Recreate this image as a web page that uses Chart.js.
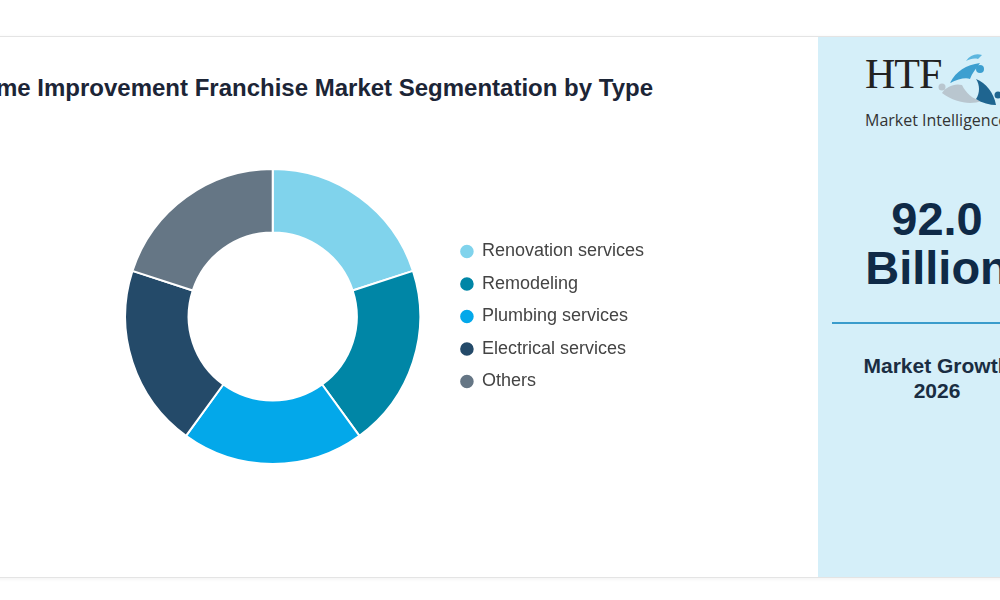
<!DOCTYPE html>
<html>
<head>
<meta charset="utf-8">
<script src="https://cdn.jsdelivr.net/npm/chart.js@4/dist/chart.umd.min.js"></script>
<style>
  html, body { margin: 0; padding: 0; width: 1000px; height: 600px; overflow: hidden; background: #ffffff; font-family: "Liberation Sans", Arial, sans-serif; }
  #card { position: absolute; left: -20px; top: 36px; width: 1100px; height: 540px; border-top: 1px solid #e4e4e4; border-bottom: 1px solid #e4e4e4; box-shadow: 0 1px 4px rgba(0,0,0,0.06); background: #fff; }
  #title { position: absolute; right: 347px; top: 74px; white-space: nowrap; font-weight: bold; font-size: 24px; color: #1c2536; text-align: right; }
  #chartBox { position: absolute; left: 99px; top: 168px; width: 555px; height: 297px; }
  #panel { position: absolute; left: 818px; top: 37px; width: 238px; height: 540px; background: #d5eff9; }
  #htf { position: absolute; left: 47px; top: 13px; font-family: "Liberation Serif", "DejaVu Serif", serif; font-size: 42px; color: #222; letter-spacing: -1px; }
  #mi { position: absolute; left: 47px; top: 72px; font-family: "Open Sans", sans-serif; font-size: 16px; color: #333; white-space: nowrap; }
  #logoIcon { position: absolute; left: 118px; top: 12px; }
  #value { position: absolute; left: 0; width: 238px; top: 157px; text-align: center; font-weight: bold; font-size: 47px; line-height: 49px; color: #0f2a47; }
  #rule { position: absolute; left: 14px; width: 210px; top: 285px; height: 2px; background: #3a9ccc; }
  #growth { position: absolute; left: 0; width: 238px; top: 316px; text-align: center; font-weight: bold; font-size: 21px; line-height: 25px; color: #1a2d42; }
</style>
</head>
<body>
<div id="card"></div>
<div id="title">Home Improvement Franchise Market Segmentation by Type</div>
<div id="chartBox"><canvas id="c"></canvas></div>
<div id="panel">
  <div id="htf">HTF</div>
  <svg id="logoIcon" width="70" height="70" viewBox="0 0 70 70">
    <path d="M14 34 C20 22 30 16 44 14 C40 20 36 24 34 30 C30 28 22 30 14 34 Z" fill="#3d9fd0"/>
    <circle cx="44" cy="20" r="4" fill="#3d9fd0"/>
    <path d="M30 12 C34 6 40 4 46 6 L42 10 C38 9 34 10 30 12 Z" fill="#5cb6df"/>
    <path d="M6 44 C10 38 18 34 26 36 C30 44 36 50 46 52 C34 56 20 54 6 44 Z" fill="#b9c6cf"/>
    <circle cx="6" cy="38" r="3.5" fill="#b9c6cf"/>
    <path d="M40 30 C50 34 58 44 60 56 C54 56 46 54 40 50 C44 44 44 36 40 30 Z" fill="#1f6590"/>
    <circle cx="62" cy="46" r="3.5" fill="#1f6590"/>
  </svg>
  <div id="mi">Market Intelligence</div>
  <div id="value">92.0<br>Billion</div>
  <div id="rule"></div>
  <div id="growth">Market Growth<br>2026</div>
</div>
<script>
const categories = ["Renovation services", "Remodeling", "Plumbing services", "Electrical services", "Others"];
const shares = [20, 20, 20, 20, 20];
const sliceColors = ["#80d3ec", "#0086a6", "#03a8ea", "#244a69", "#657685"];

new Chart(document.getElementById("c"), {
  type: "doughnut",
  data: {
    labels: categories,
    datasets: [{
      data: shares,
      backgroundColor: sliceColors,
      borderColor: "#ffffff",
      borderWidth: 2,
      hoverOffset: 0
    }]
  },
  options: {
    responsive: true,
    maintainAspectRatio: false,
    animation: false,
    cutout: "57%",
    layout: { padding: 0 },
    plugins: {
      title: { display: false },
      tooltip: { enabled: false },
      legend: {
        position: "right",
        align: "center",
        labels: {
          usePointStyle: true,
          pointStyle: "circle",
          boxWidth: 12,
          boxHeight: 11,
          padding: 14.5,
          color: "#444444",
          font: { family: "'Liberation Sans', Arial, sans-serif", size: 18 }
        }
      }
    }
  }
});
</script>
</body>
</html>
